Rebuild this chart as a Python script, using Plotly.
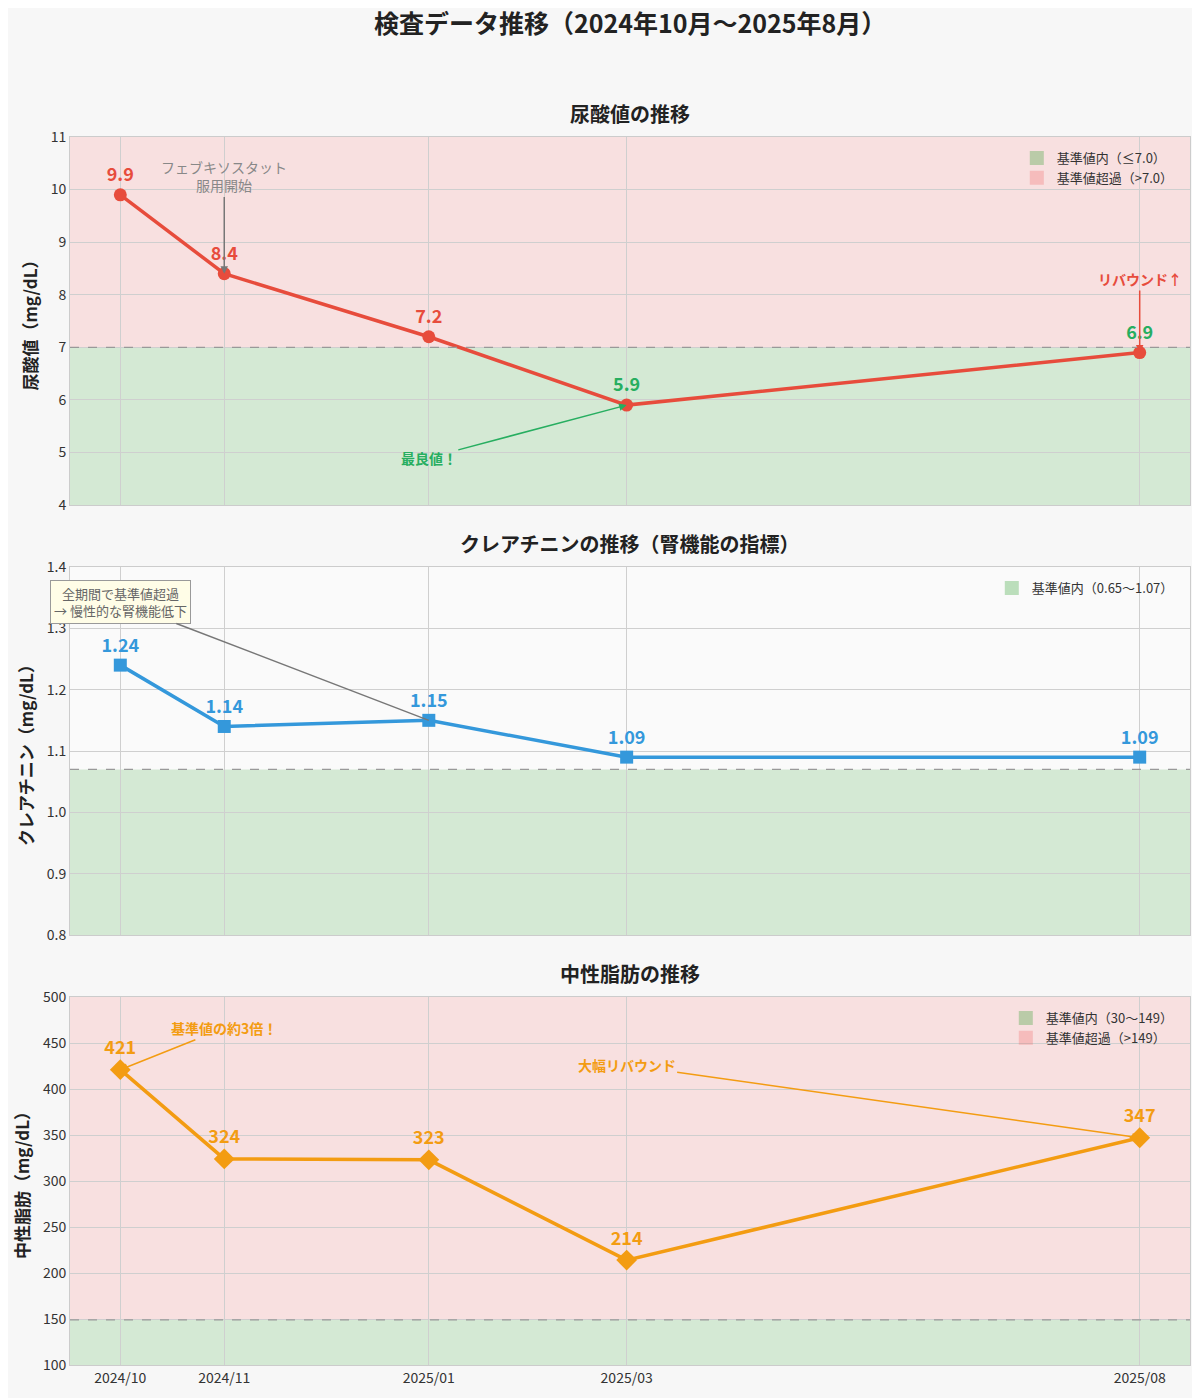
import plotly.graph_objects as go

dates = ["2024-10-01", "2024-11-01", "2025-01-01", "2025-03-01", "2025-08-01"]
tick_labels = ["2024/10", "2024/11", "2025/01", "2025/03", "2025/08"]
uric_acid = [9.9, 8.4, 7.2, 5.9, 6.9]
creatinine = [1.24, 1.14, 1.15, 1.09, 1.09]
triglyceride = [421, 324, 323, 214, 347]

FONT = "Noto Sans CJK JP"
RED, BLUE, ORANGE, GREEN = "#e74c3c", "#3498db", "#f39c12", "#27ae60"
GREEN_FILL = "rgba(0,140,0,0.15)"
RED_FILL = "rgba(240,80,80,0.15)"
H = 1398
MT, MB = 20, 20
OFF = 8  # page body margin


def fy(px):
    # page pixel -> paper fraction
    return 1 - (px - OFF - MT) / (H - MT - MB)


def dom(top_px, bottom_px):
    return [fy(bottom_px), fy(top_px)]


fig = go.Figure()
panels = [
    ("y", "x", uric_acid, RED, "circle", 13, [4, 11], 7.0, dom(137, 505), "尿酸値（mg/dL）", ""),
    ("y2", "x2", creatinine, BLUE, "square", 13, [0.8, 1.4], 1.07, dom(567, 935), "クレアチニン（mg/dL）", ".1f"),
    ("y3", "x3", triglyceride, ORANGE, "diamond", 16, [100, 500], 149, dom(997, 1365), "中性脂肪（mg/dL）", ""),
]
fmts = ["{:.1f}", "{:.2f}", "{:.0f}"]

xr = ["2024-09-16", "2025-08-16"]
for i, (ya, xa, vals, col, sym, ms, yr, thr, d, title, tf) in enumerate(panels):
    tcol = [GREEN if v <= thr else col for v in vals] if i == 0 else col
    fig.add_trace(go.Scatter(
        x=dates, y=vals, xaxis=xa, yaxis=ya, mode="lines+markers+text",
        line=dict(color=col, width=3.5), marker=dict(color=col, symbol=sym, size=ms),
        text=[fmts[i].format(v) for v in vals], textposition="top center",
        textfont=dict(color=tcol, size=18, family=FONT, weight="bold"),
        showlegend=False, cliponaxis=False))
    fig.add_shape(type="rect", xref=f"{xa} domain", yref=ya, x0=0, x1=1, y0=yr[0], y1=thr,
                  fillcolor=GREEN_FILL, line_width=0, layer="below")
    if i != 1:
        fig.add_shape(type="rect", xref=f"{xa} domain", yref=ya, x0=0, x1=1, y0=thr, y1=yr[1],
                      fillcolor=RED_FILL, line_width=0, layer="below")
    fig.add_shape(type="line", xref=f"{xa} domain", yref=ya, x0=0, x1=1, y0=thr, y1=thr,
                  line=dict(color="#999", width=1.2, dash="dash"))
    axn = "" if i == 0 else str(i + 1)
    fig.update_layout(**{
        f"xaxis{axn}": dict(domain=[0, 1], anchor=ya, range=xr, type="date", automargin=False,
                            tickvals=dates, ticktext=tick_labels if i == 2 else [""] * 5,
                            showgrid=True, gridcolor="#cfcfcf", zeroline=False,
                            showline=True, linecolor="#ccc", mirror=True,
                            tickfont=dict(size=14, color="#333")),
        f"yaxis{axn}": dict(domain=d, anchor=xa, range=yr, showgrid=True, gridcolor="#cfcfcf",
                            zeroline=False, showline=True, linecolor="#ccc", mirror=True,
                            automargin=False, tickformat=tf,
                            title=dict(text=title, font=dict(size=17, weight="bold", color="#222"), standoff=8),
                            tickfont=dict(size=14, color="#333")),
    })

legend_items = [
    ("legend", [("基準値内（≤7.0）", GREEN_FILL), ("基準値超過（>7.0）", RED_FILL)], 143),
    ("legend2", [("基準値内（0.65〜1.07）", GREEN_FILL)], 573),
    ("legend3", [("基準値内（30〜149）", GREEN_FILL), ("基準値超過（>149）", RED_FILL)], 1003),
]
for leg, items, top in legend_items:
    for name, c in items:
        fig.add_trace(go.Scatter(x=[None], y=[None], mode="markers", name=name, legend=leg,
                                 marker=dict(symbol="square", size=14, color=c.replace("0.15", "0.25"))))
    fig.update_layout(**{leg: dict(x=0.99, y=fy(top), xanchor="right", yanchor="top",
                                   bgcolor="rgba(255,255,255,0)", font=dict(size=13, color="#333"))})

fig.add_annotation(x=dates[1], y=8.4, ax=dates[1], ay=10.25, xref="x", yref="y", axref="x", ayref="y",
                   text="フェブキソスタット<br>服用開始", arrowcolor="#777", font=dict(color="#888", size=14, family=FONT),
                   showarrow=True, arrowhead=2, arrowwidth=1.5)
fig.add_annotation(x=dates[3], y=5.9, ax="2025-01-01", ay=4.9, xref="x", yref="y", axref="x", ayref="y",
                   text="<b>最良値！</b>", arrowcolor=GREEN, font=dict(color=GREEN, size=14, family=FONT),
                   showarrow=True, arrowhead=2, arrowwidth=1.5)
fig.add_annotation(x=dates[4], y=6.9, ax=dates[4], ay=8.3, xref="x", yref="y", axref="x", ayref="y",
                   text="<b>リバウンド↑</b>", arrowcolor=RED, font=dict(color=RED, size=14, family=FONT),
                   showarrow=True, arrowhead=2, arrowwidth=1.5)
fig.add_annotation(x=dates[2], y=1.15, ax="2024-10-01", ay=1.343, xref="x2", yref="y2", axref="x2", ayref="y2",
                   text="全期間で基準値超過<br>→ 慢性的な腎機能低下", arrowcolor="#777",
                   font=dict(color="#666", size=13, family=FONT), bgcolor="#fffde7",
                   bordercolor="#999", borderwidth=1, borderpad=3,
                   showarrow=True, arrowhead=0, arrowwidth=1.5)
fig.add_annotation(x=dates[0], y=421, ax="2024-11-01", ay=466, xref="x3", yref="y3", axref="x3", ayref="y3",
                   text="<b>基準値の約3倍！</b>", arrowcolor=ORANGE, font=dict(color=ORANGE, size=14, family=FONT),
                   showarrow=True, arrowhead=2, arrowwidth=1.5)
fig.add_annotation(x=dates[4], y=347, ax="2025-03-01", ay=426, xref="x3", yref="y3", axref="x3", ayref="y3",
                   text="<b>大幅リバウンド</b>", arrowcolor=ORANGE, font=dict(color=ORANGE, size=14, family=FONT),
                   showarrow=True, arrowhead=2, arrowwidth=1.5)

for txt, ypx, size in [("検査データ推移（2024年10月〜2025年8月）", 22, 25),
                       ("尿酸値の推移", 113, 20),
                       ("クレアチニンの推移（腎機能の指標）", 543, 20),
                       ("中性脂肪の推移", 973, 20)]:
    fig.add_annotation(x=0.5, y=fy(ypx), xref="paper", yref="paper", showarrow=False,
                       yanchor="middle", text=f"<b>{txt}</b>",
                       font=dict(size=size, color="#222", family=FONT))

fig.update_layout(width=1200, height=H, margin=dict(l=62, r=18, t=MT, b=MB, autoexpand=False),
                  paper_bgcolor="#f7f7f7", plot_bgcolor="#fafafa",
                  font=dict(family=FONT, color="#333"))
fig.write_html("out.html")
